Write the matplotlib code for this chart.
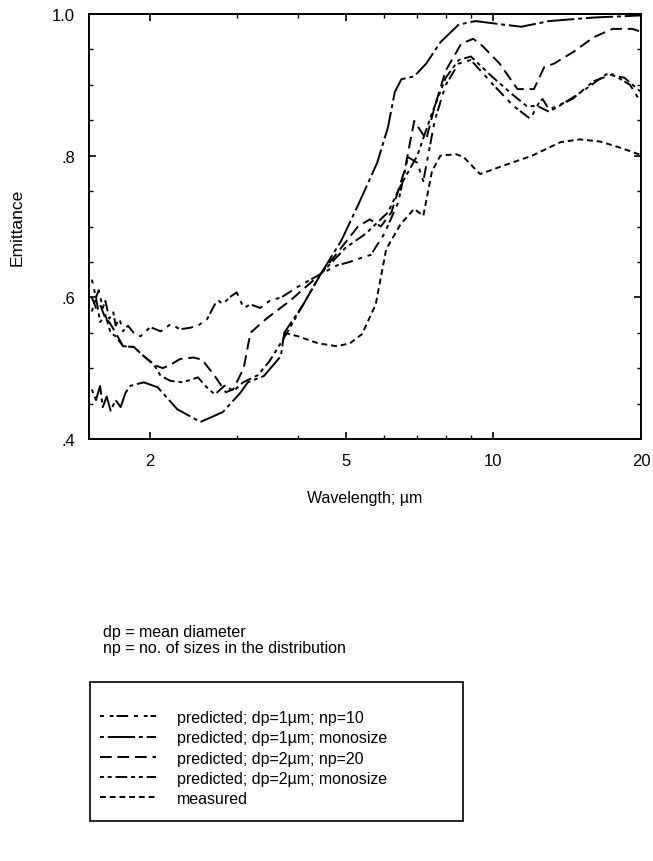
import numpy as np
import matplotlib.pyplot as plt
from matplotlib.patches import Rectangle
from matplotlib.ticker import FixedLocator, NullFormatter

plt.rcParams['font.family'] = ['Liberation Sans', 'DejaVu Sans']

# wavelength (um) / emittance
x_np10 = [1.52, 1.55, 1.57, 1.6, 1.62, 1.65, 1.68, 1.7, 1.73, 1.76, 1.8, 1.85, 1.91, 2.0, 2.1, 2.2,
          2.3, 2.41, 2.5, 2.61, 2.74, 2.81, 2.9, 3.0, 3.1, 3.2, 3.35, 3.5, 3.7, 4.0, 4.45, 4.8, 5.1,
          5.4, 5.63, 6.0, 6.4, 6.7, 7.0, 7.2, 7.6, 8.0, 8.5, 9.0, 10.0, 11.0, 11.9, 12.4, 12.6, 13.0,
          14.5, 16.0, 17.5, 19.0, 20.0]
y_np10 = [0.625, 0.60, 0.61, 0.585, 0.595, 0.57, 0.58, 0.56, 0.57, 0.552, 0.56, 0.55, 0.545, 0.558,
          0.552, 0.562, 0.555, 0.557, 0.56, 0.569, 0.597, 0.59, 0.60, 0.607, 0.585, 0.59, 0.585, 0.595,
          0.60, 0.615, 0.633, 0.645, 0.65, 0.656, 0.66, 0.69, 0.734, 0.798, 0.79, 0.764, 0.85, 0.90,
          0.93, 0.935, 0.90, 0.87, 0.852, 0.875, 0.88, 0.865, 0.88, 0.905, 0.915, 0.90, 0.875]

x_mono1 = [1.52, 1.55, 1.58, 1.6, 1.63, 1.66, 1.7, 1.74, 1.78, 1.82, 1.94, 2.07, 2.27, 2.53, 2.81,
           3.05, 3.16, 3.41, 3.69, 3.75, 4.1, 4.45, 4.9, 5.3, 5.8, 6.1, 6.3, 6.5, 6.9, 7.3, 7.8, 8.5,
           9.2, 10.5, 11.4, 13.0, 16.0, 20.0]
y_mono1 = [0.47, 0.455, 0.475, 0.445, 0.46, 0.44, 0.455, 0.445, 0.465, 0.475, 0.48, 0.473, 0.442,
           0.424, 0.438, 0.465, 0.48, 0.489, 0.517, 0.55, 0.59, 0.633, 0.68, 0.73, 0.79, 0.84, 0.89,
           0.908, 0.912, 0.93, 0.96, 0.985, 0.99, 0.985, 0.982, 0.99, 0.995, 0.998]

x_np20 = [1.52, 1.55, 1.58, 1.62, 1.65, 1.7, 1.76, 1.85, 1.94, 2.03, 2.12, 2.2, 2.3, 2.45, 2.55, 2.7,
          2.85, 2.95, 3.1, 3.2, 3.45, 3.85, 4.45, 4.9, 5.3, 5.6, 5.9, 6.2, 6.6, 6.9, 7.3, 7.6, 8.0, 8.6,
          9.1, 9.5, 10.3, 11.2, 12.1, 12.7, 13.3, 14.6, 16.0, 17.5, 19.2, 20.0]
y_np20 = [0.60, 0.585, 0.59, 0.57, 0.565, 0.55, 0.531, 0.53, 0.517, 0.505, 0.50, 0.505, 0.513, 0.515,
          0.512, 0.49, 0.466, 0.47, 0.50, 0.55, 0.57, 0.595, 0.633, 0.67, 0.70, 0.71, 0.70, 0.72, 0.78,
          0.849, 0.823, 0.87, 0.92, 0.958, 0.965, 0.955, 0.93, 0.894, 0.894, 0.925, 0.93, 0.947, 0.967,
          0.979, 0.979, 0.975]

x_mono2 = [1.52, 1.55, 1.58, 1.62, 1.66, 1.7, 1.76, 1.85, 1.94, 2.03, 2.1, 2.2, 2.33, 2.5, 2.63, 2.71,
           2.83, 2.96, 3.09, 3.31, 3.5, 3.8, 4.1, 4.45, 5.0, 5.5, 6.1, 6.5, 7.0, 7.5, 8.0, 8.5, 9.0,
           10.0, 11.0, 11.7, 12.3, 13.0, 14.0, 15.5, 17.0, 18.5, 20.0]
y_mono2 = [0.58, 0.60, 0.565, 0.575, 0.55, 0.545, 0.531, 0.53, 0.517, 0.506, 0.489, 0.482, 0.48,
           0.487, 0.47, 0.463, 0.475, 0.468, 0.48, 0.49, 0.51, 0.55, 0.59, 0.633, 0.67, 0.69, 0.72,
           0.76, 0.80, 0.86, 0.91, 0.935, 0.94, 0.91, 0.885, 0.87, 0.87, 0.862, 0.875, 0.895, 0.915,
           0.91, 0.89]

x_meas = [3.75, 4.0, 4.4, 4.8, 5.1, 5.4, 5.76, 6.05, 6.47, 6.9, 7.2, 7.5, 7.8, 8.4, 8.7, 9.4, 10.4,
          12.0, 13.7, 15.0, 16.5, 18.0, 19.8, 20.0]
y_meas = [0.55, 0.545, 0.535, 0.531, 0.535, 0.548, 0.59, 0.668, 0.703, 0.725, 0.715, 0.778, 0.80,
          0.802, 0.798, 0.774, 0.785, 0.80, 0.819, 0.823, 0.82, 0.812, 0.802, 0.80]

labels = ['predicted; dp=1\u00b5m; np=10',
          'predicted; dp=1\u00b5m; monosize',
          'predicted; dp=2\u00b5m; np=20',
          'predicted; dp=2\u00b5m; monosize',
          'measured']

fig = plt.figure(figsize=(6.53, 8.62), dpi=100)
ax = fig.add_axes([89/653, 1 - 440/862, 552/653, 425/862])

lw = 1.4
l1, = ax.plot(x_np10, y_np10, color='k', lw=lw, ls=(0, (2, 3, 2, 1.5, 6, 3)))
l2, = ax.plot(x_mono1, y_mono1, color='k', lw=lw, ls=(0, (2, 2, 14, 2)))
l3, = ax.plot(x_np20, y_np20, color='k', lw=lw, ls=(0, (6, 3)))
l4, = ax.plot(x_mono2, y_mono2, color='k', lw=lw, ls=(0, (2, 2, 2, 2, 6, 2)))
l5, = ax.plot(x_meas, y_meas, color='k', lw=lw, ls=(0, (3, 2)))

ax.set_xscale('log')
ax.set_xlim(1.5, 20)
ax.set_ylim(0.4, 1.0)
ax.xaxis.set_major_locator(FixedLocator([2, 5, 10, 20]))
ax.xaxis.set_minor_locator(FixedLocator([3, 4, 6, 7, 8, 9]))
ax.xaxis.set_minor_formatter(NullFormatter())
ax.set_xticklabels(['2', '5', '10', '20'])
ax.set_yticks([0.4, 0.6, 0.8, 1.0])
ax.set_yticklabels(['.4', '.6', '.8', '1.0'])
ax.yaxis.set_minor_locator(FixedLocator(np.arange(0.45, 1.0, 0.05)))
ax.tick_params(which='both', direction='in', top=True, right=True, labelsize=12)
ax.tick_params(which='major', length=5, width=1.2, pad=10)
ax.tick_params(which='minor', length=3, width=1)
for s in ax.spines.values():
    s.set_linewidth(1.4)

ax.set_xlabel('Wavelength; \u00b5m', fontsize=11.5, labelpad=16)
ax.set_ylabel('Emittance', fontsize=12.5, labelpad=20)

fig.text(103/653, 1 - 632/862, 'dp = mean diameter', fontsize=11.5, va='center')
fig.text(103/653, 1 - 649/862, 'np = no. of sizes in the distribution', fontsize=11.5, va='center')

fig.patches.append(Rectangle((90/653, 1 - 822/862), 373/653, 139/862, transform=fig.transFigure,
                             fill=False, edgecolor='k', lw=1.2))
fig.legend([l1, l2, l3, l4, l5], labels, loc='upper left', bbox_to_anchor=(100/653, 1 - 711/862),
           frameon=False, fontsize=11.5, handlelength=3.5, handletextpad=1.3, labelspacing=0.33,
           borderaxespad=0, borderpad=0)

fig.savefig('out.png', dpi=100)
